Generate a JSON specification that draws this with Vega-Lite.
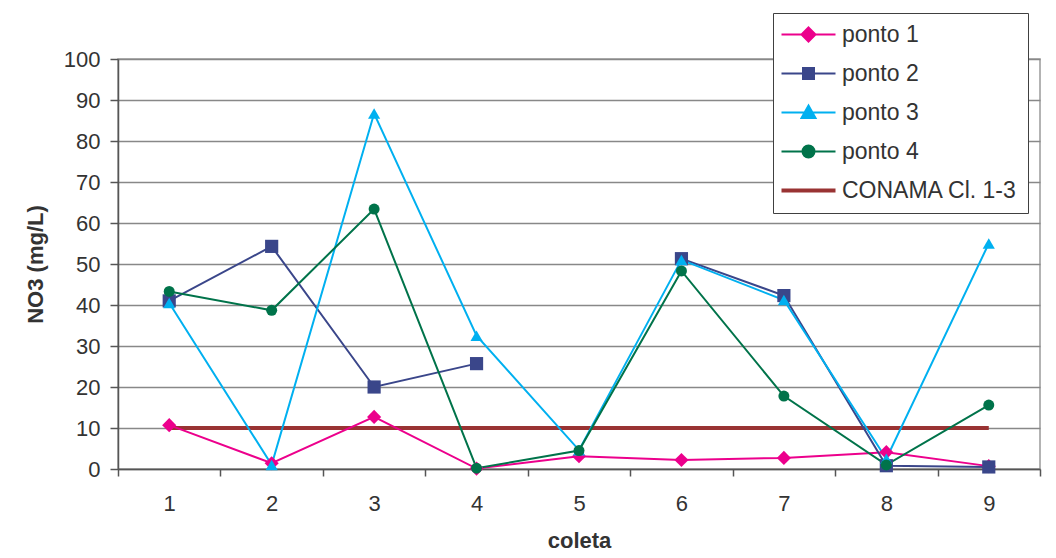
{
  "$schema": "https://vega.github.io/schema/vega-lite/v6.json",
  "width": 922,
  "height": 410,
  "autosize": "none",
  "padding": {"left": 118, "top": 59, "right": 16, "bottom": 89},
  "background": "white",
  "config": {
    "font": "Liberation Sans",
    "view": {"stroke": "#9a9a9a", "strokeWidth": 1.5},
    "axis": {"labelColor": "#333333", "titleColor": "#333333", "labelFont": "Liberation Sans", "titleFont": "Liberation Sans"}
  },
  "data": {
    "values": [
      {"coleta": "1", "serie": "ponto 1", "valor": 10.7},
      {"coleta": "2", "serie": "ponto 1", "valor": 1.4},
      {"coleta": "3", "serie": "ponto 1", "valor": 12.7},
      {"coleta": "4", "serie": "ponto 1", "valor": 0.1},
      {"coleta": "5", "serie": "ponto 1", "valor": 3.1},
      {"coleta": "6", "serie": "ponto 1", "valor": 2.2},
      {"coleta": "7", "serie": "ponto 1", "valor": 2.7},
      {"coleta": "8", "serie": "ponto 1", "valor": 4.1},
      {"coleta": "9", "serie": "ponto 1", "valor": 0.7},
      {"coleta": "1", "serie": "ponto 2", "valor": 41.0},
      {"coleta": "2", "serie": "ponto 2", "valor": 54.3},
      {"coleta": "3", "serie": "ponto 2", "valor": 20.0},
      {"coleta": "4", "serie": "ponto 2", "valor": 25.7},
      {"coleta": "5", "serie": "ponto 2", "valor": null},
      {"coleta": "6", "serie": "ponto 2", "valor": 51.3},
      {"coleta": "7", "serie": "ponto 2", "valor": 42.3},
      {"coleta": "8", "serie": "ponto 2", "valor": 0.8},
      {"coleta": "9", "serie": "ponto 2", "valor": 0.5},
      {"coleta": "1", "serie": "ponto 3", "valor": 40.5},
      {"coleta": "2", "serie": "ponto 3", "valor": 1.0},
      {"coleta": "3", "serie": "ponto 3", "valor": 86.7},
      {"coleta": "4", "serie": "ponto 3", "valor": 32.5},
      {"coleta": "5", "serie": "ponto 3", "valor": 4.6},
      {"coleta": "6", "serie": "ponto 3", "valor": 51.0},
      {"coleta": "7", "serie": "ponto 3", "valor": 41.2},
      {"coleta": "8", "serie": "ponto 3", "valor": 2.5},
      {"coleta": "9", "serie": "ponto 3", "valor": 55.0},
      {"coleta": "1", "serie": "ponto 4", "valor": 43.3},
      {"coleta": "2", "serie": "ponto 4", "valor": 38.7},
      {"coleta": "3", "serie": "ponto 4", "valor": 63.4},
      {"coleta": "4", "serie": "ponto 4", "valor": 0.2},
      {"coleta": "5", "serie": "ponto 4", "valor": 4.5},
      {"coleta": "6", "serie": "ponto 4", "valor": 48.3},
      {"coleta": "7", "serie": "ponto 4", "valor": 17.8},
      {"coleta": "8", "serie": "ponto 4", "valor": 1.0},
      {"coleta": "9", "serie": "ponto 4", "valor": 15.6},
      {"coleta": "1", "serie": "CONAMA Cl. 1-3", "valor": 10},
      {"coleta": "2", "serie": "CONAMA Cl. 1-3", "valor": 10},
      {"coleta": "3", "serie": "CONAMA Cl. 1-3", "valor": 10},
      {"coleta": "4", "serie": "CONAMA Cl. 1-3", "valor": 10},
      {"coleta": "5", "serie": "CONAMA Cl. 1-3", "valor": 10},
      {"coleta": "6", "serie": "CONAMA Cl. 1-3", "valor": 10},
      {"coleta": "7", "serie": "CONAMA Cl. 1-3", "valor": 10},
      {"coleta": "8", "serie": "CONAMA Cl. 1-3", "valor": 10},
      {"coleta": "9", "serie": "CONAMA Cl. 1-3", "valor": 10}
    ]
  },
  "encoding": {
    "x": {
      "field": "coleta", "type": "ordinal",
      "scale": {"type": "band", "paddingInner": 0, "paddingOuter": 0},
      "axis": {
        "title": "coleta", "labelAngle": 0, "tickBand": "extent",
        "labelFontSize": 22, "labelPadding": 17, "tickSize": 7,
        "tickColor": "#555555", "tickWidth": 1.5,
        "domainColor": "#555555", "domainWidth": 1.5,
        "titleFontSize": 22, "titleFontWeight": "bold", "titlePadding": 16,
        "grid": false
      }
    },
    "y": {
      "field": "valor", "type": "quantitative",
      "scale": {"domain": [0, 100], "nice": false},
      "axis": {
        "title": "NO3 (mg/L)", "values": [0, 10, 20, 30, 40, 50, 60, 70, 80, 90, 100],
        "labelFontSize": 22, "labelPadding": 10, "tickSize": 8,
        "tickColor": "#555555", "tickWidth": 1.5,
        "domainColor": "#555555", "domainWidth": 1.5,
        "gridColor": "#888888", "gridWidth": 1.5,
        "titleFontSize": 22, "titleFontWeight": "bold", "titlePadding": 16
      }
    },
    "color": {
      "field": "serie", "type": "nominal",
      "scale": {
        "domain": ["ponto 1", "ponto 2", "ponto 3", "ponto 4", "CONAMA Cl. 1-3"],
        "range": ["#EC008C", "#3A468A", "#00B0F0", "#00734A", "#993333"]
      },
      "legend": {
        "title": null, "orient": "none", "legendX": 655, "legendY": -46,
        "fillColor": "white", "strokeColor": "#404040", "padding": 10,
        "labelFontSize": 23, "labelColor": "#333333", "labelFont": "Liberation Sans", "labelLimit": 0,
        "symbolSize": 400, "symbolOffset": 14, "labelOffset": 22, "rowPadding": 15,
        "symbolOpacity": 1,
        "encode": {
          "symbols": {
            "update": {
              "shape": {"signal": "datum.value === 'ponto 1' ? 'M-2.7,0H2.7M0,-0.7L0.7,0L0,0.7L-0.7,0Z' : datum.value === 'ponto 2' ? 'M-2.7,0H2.7M-0.55,-0.55H0.55V0.55H-0.55Z' : datum.value === 'ponto 3' ? 'M-2.7,0H2.7M0,-0.7L0.7,0.55H-0.7Z' : datum.value === 'ponto 4' ? 'M-2.7,0H2.7M-0.6,0A0.6,0.6,0,1,0,0.6,0A0.6,0.6,0,1,0,-0.6,0Z' : 'M-2.7,0H2.7'"},
              "fill": {"signal": "scale('color', datum.value)"},
              "stroke": {"signal": "scale('color', datum.value)"},
              "strokeWidth": {"signal": "datum.value === 'CONAMA Cl. 1-3' ? 4 : 2"},
              "opacity": {"value": 1},
              "fillOpacity": {"value": 1}
            }
          }
        }
      }
    }
  },
  "layer": [
    {
      "transform": [{"filter": "datum.serie === 'CONAMA Cl. 1-3'"}],
      "mark": {"type": "line", "strokeWidth": 4}
    },
    {
      "transform": [{"filter": "datum.serie !== 'CONAMA Cl. 1-3'"}],
      "mark": {"type": "line", "strokeWidth": 2, "invalid": "break-paths-show-domains"}
    },
    {
      "transform": [{"filter": "datum.serie !== 'CONAMA Cl. 1-3' && isValid(datum.valor)"}],
      "mark": {"type": "point", "filled": true, "opacity": 1, "size": 160},
      "encoding": {
        "shape": {
          "field": "serie", "type": "nominal",
          "scale": {"domain": ["ponto 1", "ponto 2", "ponto 3", "ponto 4"], "range": ["diamond", "square", "triangle-up", "circle"]},
          "legend": null
        },
        "size": {
          "field": "serie", "type": "nominal",
          "scale": {"domain": ["ponto 1", "ponto 2", "ponto 3", "ponto 4"], "range": [200, 121, 170, 144]},
          "legend": null
        }
      }
    }
  ]
}
